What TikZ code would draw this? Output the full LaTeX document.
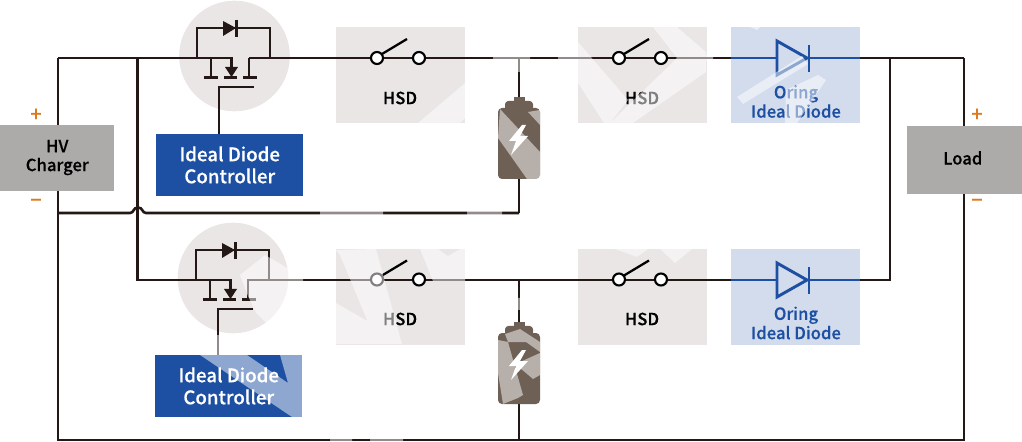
\documentclass[tikz,border=0pt]{standalone}
\usepackage{fontspec}
\setmainfont{Noto Sans CJK JP}[BoldFont={Noto Sans CJK JP Medium},BoldFeatures={FakeBold=0.35}]
\usetikzlibrary{calc}
\definecolor{wire}{HTML}{231815}
\definecolor{boxgrey}{HTML}{E9E6E5}
\definecolor{bluefill}{HTML}{1D50A2}
\definecolor{bluepale}{HTML}{D3DCEC}
\definecolor{srcgrey}{HTML}{ACABA9}
\definecolor{orangemark}{HTML}{DD7A1F}
\definecolor{batdark}{HTML}{6F6056}
\tikzset{
  x=0.75pt,y=-0.75pt,
  wireline/.style={draw=wire,line width=1.95pt},
  thinwire/.style={draw=wire,line width=1.8pt},
  bluewire/.style={draw=bluefill,line width=2.2pt},
  hsdbox/.style={fill=boxgrey,draw=none,minimum width=96.75pt,minimum height=72pt,inner sep=0pt,anchor=north west},
  oringbox/.style={fill=bluepale,draw=none,minimum width=96.75pt,minimum height=72pt,inner sep=0pt,anchor=north west},
  ctrlbox/.style={fill=bluefill,draw=none,text=white,minimum width=110.25pt,minimum height=46pt,inner sep=0pt,anchor=north west,align=center,font=\bfseries\fontsize{14}{16.5}\selectfont},
  srcbox/.style={fill=srcgrey,draw=none,text=black,inner sep=0pt,anchor=north west,align=center,font=\bfseries\fontsize{12.5}{14}\selectfont},
  hsdlabel/.style={font=\bfseries\fontsize{12.5}{14}\selectfont,text=black,inner sep=0pt},
  oringlabel/.style={font=\bfseries\fontsize{12.5}{14.5}\selectfont,text=bluefill,inner sep=0pt,align=center},
  pole/.style={circle,draw=black,line width=1.6pt,fill=white,minimum size=9pt,inner sep=0pt},
  signmark/.style={text=orangemark,font=\bfseries\fontsize{15}{15}\selectfont,inner sep=0pt},
  mosdisc/.style={circle,fill=boxgrey,draw=none,minimum size=83pt,inner sep=0pt},
  fade/.style={fill=white,fill opacity=0.5,draw=none},
}
\newcommand{\mosfet}[3]{% x, rail y, name
  \begin{scope}[shift={(#1,#2)}]
    \draw[thinwire] (-37,0) -- (-37,-30) -- (36,-30) -- (36,0);
    \fill[wire] (-11,-37) -- (2,-30) -- (-11,-22) -- cycle;
    \draw[thinwire] (2.5,-38) -- (2.5,-21);
    \draw[thinwire] (-23,0) -- (-23,19);
    \draw[thinwire] (-30,19.5) -- (-16,19.5);
    \draw[thinwire] (-10,19.5) -- (3,19.5);
    \draw[thinwire] (9,19.5) -- (23,19.5);
    \draw[thinwire] (-2.5,0) -- (-2.5,10);
    \fill[wire] (-9,9) -- (4,9) -- (-2.5,19) -- cycle;
    \draw[thinwire] (15,19) -- (15,0);
  \end{scope}
}
\newcommand{\batt}[1]{%
  \begin{scope}[shift={(519,#1)}]
    \fill[batdark] (-5.5,0) rectangle (6,5);
    \fill[batdark,rounded corners=2.5pt] (-14,4) rectangle (14,14);
    \fill[batdark,rounded corners=3pt] (-21,11) rectangle (21,82);
    \fill[white] (3,28) -- (-10,44) -- (-3,44) -- (-8,58) -- (9,39) -- (1,39) -- (7,28) -- cycle;
  \end{scope}
}
\begin{document}
\begin{tikzpicture}
\useasboundingbox (0,0) rectangle (1022,442);
% anchors
\coordinate (tl) at (58,58);
\coordinate (tr) at (964,58);
\coordinate (bl) at (58,440);
\coordinate (br) at (964,440);
\coordinate (jl) at (137.5,58);
\coordinate (jlb) at (137.5,280);
\coordinate (jr) at (890,58);
\coordinate (jrb) at (890,280);
\coordinate (bt) at (519,58);
\coordinate (bm) at (519,213);
\coordinate (lm) at (58,213);
\coordinate (bb) at (519,280);
\coordinate (bbb) at (519,440);
% discs and boxes
\node[mosdisc] (m1) at (234.5,56) {};
\node[mosdisc] (m2) at (233,278) {};
\node[hsdbox] (h1) at (336,27) {};
\node[hsdbox] (h2) at (578,27) {};
\node[oringbox] (o1) at (731,27) {};
\node[hsdbox] (h3) at (336,249) {};
\node[hsdbox] (h4) at (578,249) {};
\node[oringbox] (o2) at (731,249) {};
% wires
\draw[wireline] (tl) -- (233,58);
\draw[wireline] (249,58) -- (tr);
\draw[wireline] (jl) -- (jlb) -- (232,280);
\draw[wireline] (247,280) -- (jrb) -- (jr);
\draw[wireline] (tl) -- (bl) -- (br) -- (tr);
\draw[wireline] (lm) -- (130,213) .. controls (134,213) and (133,207.5) .. (138,207.5) .. controls (143,207.5) and (142,213) .. (146,213) -- (bm);
\draw[wireline] (bt) -- (bm);
\draw[wireline] (bb) -- (bbb);
\mosfet{234}{58}{a}
\mosfet{233}{280}{b}
% gate and controllers
\node[ctrlbox] (c1) at (156,134) {Ideal Diode\\Controller};
\node[ctrlbox] (c2) at (155,355) {Ideal Diode\\Controller};
\coordinate (g1) at (254,87);
\coordinate (g2) at (253,309);
\draw[thinwire] (g1) -- (219,87) -- (219,134);
\draw[thinwire] (g2) -- (218,309) -- (218,355);
% sources
\node[srcbox,minimum width=85.5pt,minimum height=49pt] (hv) at (0,125) {\raisebox{6pt}{\begin{tabular}{@{}c@{}}HV\\Charger\end{tabular}}};
\node[srcbox,minimum width=86.25pt,minimum height=51pt] (load) at (907,126) {\raisebox{3.6pt}{Load}\hspace{3pt}};
\node[signmark] at (36,115) {+};
\node[signmark] at (36,203) {−};
\node[signmark] at (977,115) {+};
\node[signmark] at (977,203) {−};
% batteries
\batt{97}
\batt{322}
% switches
\foreach \bx/\by in {377/58,619/58,377/279.5,619/279.5}{
  \draw[draw=black,line width=1.7pt] ($(\bx,\by)+(5,-4)$) -- ($(\bx,\by)+(30,-19)$);
  \node[pole] at (\bx,\by) {};
  \node[pole] at ($(\bx,\by)+(42,0)$) {};
}
\node[hsdlabel] (t1) at (400,98) {HSD};
\node[hsdlabel] (t2) at (642,98) {HSD};
\node[hsdlabel] (t3) at (400,319) {HSD};
\node[hsdlabel] (t4) at (642,319) {HSD};
% oring diodes
\foreach \dy in {58,280}{
  \draw[bluewire] (731,\dy) -- (860,\dy);
  \fill[bluepale] (777,\dy-17) -- (777,\dy+17) -- (807,\dy) -- cycle;
  \draw[bluewire,miter limit=10] (777,\dy-17) -- (777,\dy+17) -- (807,\dy) -- cycle;
  \draw[bluewire] (809,\dy-13) -- (809,\dy+14);
}
\node[oringlabel] (t5) at (796,101.5) {Oring\\Ideal Diode};
\node[oringlabel] (t6) at (796,323) {Oring\\Ideal Diode};
% translucent white overlay
\fill[fade]
  % first HSD corner
  (465,83) -- (418,123) -- (460,123) -- (465,118) -- cycle
  % top rail and branch
  (493,55) rectangle (530,61)
  (517,61) rectangle (521,72)
  (558,55) rectangle (578,61)
  (706,55) rectangle (713,61)
  % second HSD
  (653,27) -- (677,27) -- (706,52) -- (706,72) -- (633,123) -- (610,123) -- (677,58) -- cycle
  (578,42) -- (628,100) -- (610,123) -- (604,123) -- (578,83) -- cycle
  % upper Oring
  (737,97) -- (743,104) -- (808,64) -- (802,56) -- cycle
  (786,90) -- (818,75) -- (826,80) -- (797,123) -- (785,123) -- cycle
  (750,27) -- (760,27) -- (757,30) -- cycle
  % mid rail
  (320,210) rectangle (383,216)
  (467,210) rectangle (502,216)
  % upper battery
  (500,109) -- (540,152) -- (540,179) -- (527,179) -- (498,138) -- cycle
  (528,112) -- (540,125) -- (540,110) -- cycle
  % lower MOSFET
  (240,275) -- (265,255) -- (303,277) -- (303,282) -- (287,300) -- (268,325) -- (256,313) -- (248,296) -- cycle
  % lower controller
  (200,355) -- (247,355) -- (288,383) -- (280,355) -- (302,355) -- (302,417) -- (292,417) -- cycle
  (215,335) rectangle (222,355)
  % third HSD
  (336,250) -- (376,249) -- (402,344) -- (377,344) -- (340,255) -- cycle
  (336,303) -- (369,322) -- (377,344) -- (336,344) -- cycle
  (420,249) -- (438,249) -- (448,256) -- (460,249) -- (465,249) -- (465,281) -- (433,281) -- cycle
  % fourth HSD
  (615,249) -- (637,257) -- (648,249) -- cycle
  (660,249) -- (675,263) -- (692,249) -- cycle
  % lower battery
  (498,340) -- (508,342) -- (523,395) -- (518,398) -- (503,404) -- (498,373) -- cycle
  (508,342) -- (505,334) -- (520,329) -- (540,342) -- (540,352) -- (526,342) -- cycle
  (520,362) -- (540,353) -- (540,375) -- (533,379) -- (520,368) -- cycle
  (517,298) rectangle (521,310)
  % bottom rail
  (330,437) rectangle (352,443)
  (370,437) rectangle (403,443);
\end{tikzpicture}
\end{document}
